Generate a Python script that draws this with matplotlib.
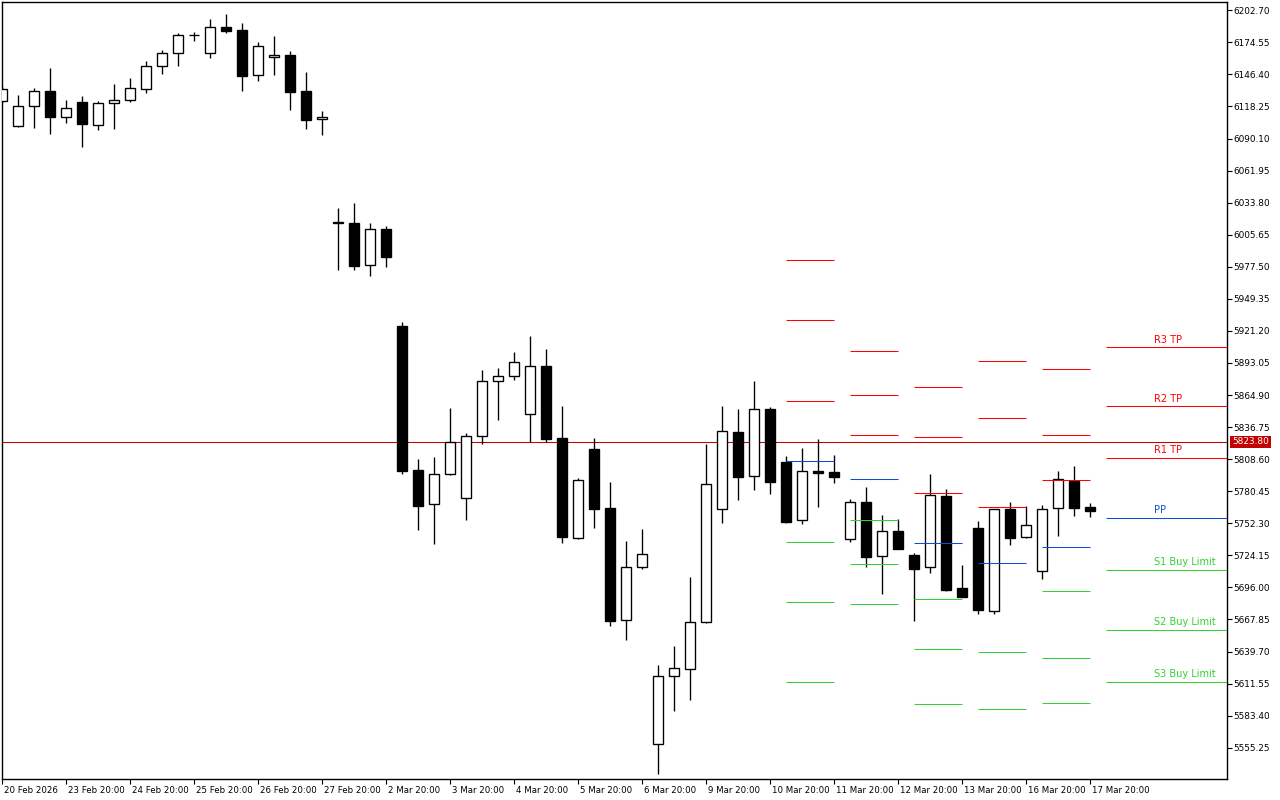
import matplotlib
matplotlib.use("Agg")
import matplotlib.pyplot as plt
import matplotlib.transforms as mtransforms

# ---------------- data ----------------
opens = [6122.8, 6100.8, 6118.4, 6131.8, 6108.7, 6121.9, 6101.7, 6121.0, 6123.6, 6133.3,
         6153.5, 6164.9, 6180.8, 6164.9, 6187.7, 6185.4, 6145.6, 6161.4, 6163.4, 6131.8,
         6107.0, 6017.0, 6015.9, 5978.8, 6010.6, 5925.5, 5799.0, 5768.9, 5795.3, 5774.2,
         5828.6, 5876.9, 5881.3, 5847.9, 5890.1, 5827.1, 5739.1, 5817.5, 5765.7, 5667.1,
         5713.6, 5558.2, 5617.9, 5624.1, 5665.3, 5764.5, 5832.4, 5793.5, 5852.3, 5805.8,
         5754.9, 5797.9, 5797.0, 5738.2, 5770.7, 5723.3, 5745.2, 5724.1, 5713.6, 5775.9,
         5695.2, 5748.1, 5675.0, 5764.5, 5739.9, 5710.1, 5765.4, 5789.4, 5766.5]
highs = [6136.2, 6128.3, 6134.4, 6152.0, 6123.9, 6127.1, 6123.0, 6137.9, 6143.2, 6158.1,
         6167.8, 6182.7, 6183.6, 6195.0, 6199.4, 6191.5, 6174.8, 6180.1, 6166.9, 6148.5,
         6114.0, 6029.1, 6033.5, 6015.9, 6013.3, 5929.0, 5808.7, 5810.5, 5853.5, 5831.3,
         5886.8, 5888.6, 5902.6, 5916.7, 5905.3, 5855.2, 5792.0, 5827.1, 5788.5, 5736.7,
         5747.2, 5627.8, 5644.5, 5705.1, 5821.9, 5855.2, 5852.6, 5877.2, 5854.4, 5811.3,
         5818.4, 5826.3, 5812.2, 5773.6, 5784.1, 5759.5, 5756.0, 5726.2, 5795.5, 5782.4,
         5715.6, 5754.3, 5764.6, 5770.9, 5767.4, 5768.3, 5798.2, 5802.5, 5770.1]
lows = [6121.3, 6100.5, 6099.6, 6094.3, 6104.0, 6082.9, 6097.8, 6098.7, 6122.4, 6130.3,
        6147.0, 6154.0, 6176.0, 6161.0, 6183.0, 6132.1, 6140.8, 6146.1, 6115.4, 6098.7,
        6093.4, 5974.9, 5974.9, 5969.6, 5977.5, 5795.5, 5746.6, 5734.3, 5795.0, 5755.4,
        5822.1, 5843.2, 5878.3, 5823.9, 5823.9, 5735.2, 5738.8, 5748.4, 5662.3, 5650.0,
        5712.4, 5532.4, 5587.7, 5597.4, 5665.0, 5752.8, 5773.0, 5781.7, 5778.2, 5752.8,
        5751.9, 5766.8, 5787.9, 5736.1, 5714.1, 5690.4, 5729.6, 5666.7, 5708.9, 5693.0,
        5687.5, 5672.9, 5672.9, 5733.4, 5739.6, 5703.6, 5741.4, 5758.9, 5758.0]
closes = [6133.3, 6118.4, 6131.5, 6108.7, 6116.6, 6102.6, 6121.0, 6123.6, 6134.2, 6153.5,
          6164.9, 6180.7, 6181.0, 6187.7, 6184.7, 6145.2, 6171.0, 6163.1, 6131.2, 6106.6,
          6108.7, 6015.8, 5978.4, 6010.4, 5986.3, 5798.4, 5767.7, 5795.3, 5823.4, 5828.6,
          5876.9, 5881.3, 5893.6, 5890.1, 5826.5, 5740.5, 5790.3, 5765.1, 5666.7, 5713.9,
          5725.0, 5617.9, 5624.9, 5665.3, 5786.5, 5833.0, 5793.2, 5852.3, 5788.8, 5753.6,
          5797.9, 5796.7, 5793.2, 5770.7, 5722.9, 5745.2, 5729.9, 5712.4, 5776.8, 5693.9,
          5687.8, 5675.9, 5764.5, 5739.6, 5750.5, 5764.5, 5790.9, 5765.9, 5763.3]

x_tick_idx = [0, 4, 8, 12, 16, 20, 24, 28, 32, 36, 40, 44, 48, 52, 56, 60, 64, 68]
x_tick_labels = ["20 Feb 2026", "23 Feb 20:00", "24 Feb 20:00", "25 Feb 20:00",
                 "26 Feb 20:00", "27 Feb 20:00", "2 Mar 20:00", "3 Mar 20:00",
                 "4 Mar 20:00", "5 Mar 20:00", "6 Mar 20:00", "9 Mar 20:00",
                 "10 Mar 20:00", "11 Mar 20:00", "12 Mar 20:00", "13 Mar 20:00",
                 "16 Mar 20:00", "17 Mar 20:00"]
y_ticks = [5555.25, 5583.40, 5611.55, 5639.70, 5667.85, 5696.00, 5724.15, 5752.30,
           5780.45, 5808.60, 5836.75, 5864.90, 5893.05, 5921.20, 5949.35, 5977.50,
           6005.65, 6033.80, 6061.95, 6090.10, 6118.25, 6146.40, 6174.55, 6202.70]
y_tick_labels = ["%.2f" % v for v in y_ticks]

# daily pivot levels (one value per day segment)
pivot_starts = [49, 53, 57, 61, 65, 69]
R3 = [5983.2, 5903.5, 5871.7, 5894.8, 5887.7, 5906.8]
R2 = [5930.5, 5864.6, 5827.8, 5844.4, 5829.5, 5855.0]
R1 = [5859.4, 5829.5, 5778.6, 5766.3, 5790.0, 5809.6]
PP = [5806.7, 5790.9, 5734.7, 5717.1, 5731.2, 5756.7]
S1 = [5735.6, 5754.9, 5685.5, 5639.0, 5692.6, 5711.3]
S2 = [5682.9, 5716.3, 5641.6, 5589.0, 5633.7, 5658.6]
S3 = [5612.7, 5681.2, 5593.4, 5511.0, 5594.2, 5612.7]
level_names = ["R3 TP", "R2 TP", "R1 TP", "PP", "S1 Buy Limit", "S2 Buy Limit", "S3 Buy Limit"]

current_price = 5823.80

# ---------------- style ----------------
RED = "#ff0000"
BLUE = "#0a4fd6"
GREEN = "#36cf36"
PRICE_RED = "#c40000"
LW = 0.75
FONT = "DejaVu Sans"

fig = plt.figure(figsize=(12.8, 8.0), dpi=100)
ax = fig.add_axes([2 / 1280, 1 - 779 / 800, 1225 / 1280, 777 / 800])
ax.set_facecolor("white")

x_left, x_right = 0.0, 76.5625
ax.set_xlim(x_left, x_right)
ax.set_ylim(5527.77, 6209.95)

# current price line (background)
ax.axhline(current_price, color=PRICE_RED, lw=LW, zorder=1)

# candles
n = len(opens)
xs = list(range(n))
body_w = 0.64
ax.vlines(xs, lows, highs, color="black", lw=LW * 1.3, zorder=2)
for i in xs:
    o, c = opens[i], closes[i]
    bottom = min(o, c)
    height = abs(c - o)
    fc = "white" if c >= o else "black"
    ax.bar(i, height, width=body_w, bottom=bottom, color=fc,
           edgecolor="black", linewidth=LW * 1.3, zorder=3)

# pivot segments
levels = [R3, R2, R1, PP, S1, S2, S3]
colors = [RED, RED, RED, BLUE, GREEN, GREEN, GREEN]
for k, start in enumerate(pivot_starts):
    end = start + 3 if k < len(pivot_starts) - 1 else x_right + 1
    for lev, col in zip(levels, colors):
        ax.hlines(lev[k], start, end, colors=col, lw=LW, zorder=4)

# labels on the current-day pivot segment
lab_off = mtransforms.ScaledTranslation(0, 2 / 72, fig.dpi_scale_trans)
for lev, col, name in zip(levels, colors, level_names):
    ax.text(pivot_starts[-1] + 3, lev[-1], name, color=col, fontsize=7,
            family=FONT, ha="left", va="bottom",
            transform=ax.transData + lab_off, zorder=5)

# axes & ticks
for sp in ax.spines.values():
    sp.set_color("black")
    sp.set_linewidth(1.0)

ax.yaxis.tick_right()
ax.set_yticks(y_ticks)
ax.set_yticklabels(y_tick_labels, fontsize=6.4, family=FONT)
ax.tick_params(axis="y", direction="out", length=3.5, width=0.8, pad=1, colors="black")

ax.set_xticks(x_tick_idx)
ax.set_xticklabels(x_tick_labels, fontsize=6.2, family=FONT)
ax.tick_params(axis="x", direction="out", length=3.5, width=0.8, pad=1.5, colors="black")
xoff = mtransforms.ScaledTranslation(2 / 100, 0, fig.dpi_scale_trans)
for lbl in ax.get_xticklabels():
    lbl.set_horizontalalignment("left")
    lbl.set_transform(lbl.get_transform() + xoff)

# current price tag on the right axis
tag_tr = mtransforms.blended_transform_factory(ax.transAxes, ax.transData) + \
    mtransforms.ScaledTranslation(5 / 100, 0, fig.dpi_scale_trans)
ax.text(1.0, current_price, "%.2f" % current_price, transform=tag_tr,
        ha="left", va="center", fontsize=6.4, family=FONT, color="white",
        bbox=dict(boxstyle="square,pad=0.2", facecolor=PRICE_RED, edgecolor="none"),
        zorder=10, clip_on=False)

fig.savefig("out.png", dpi=100, facecolor="white")
